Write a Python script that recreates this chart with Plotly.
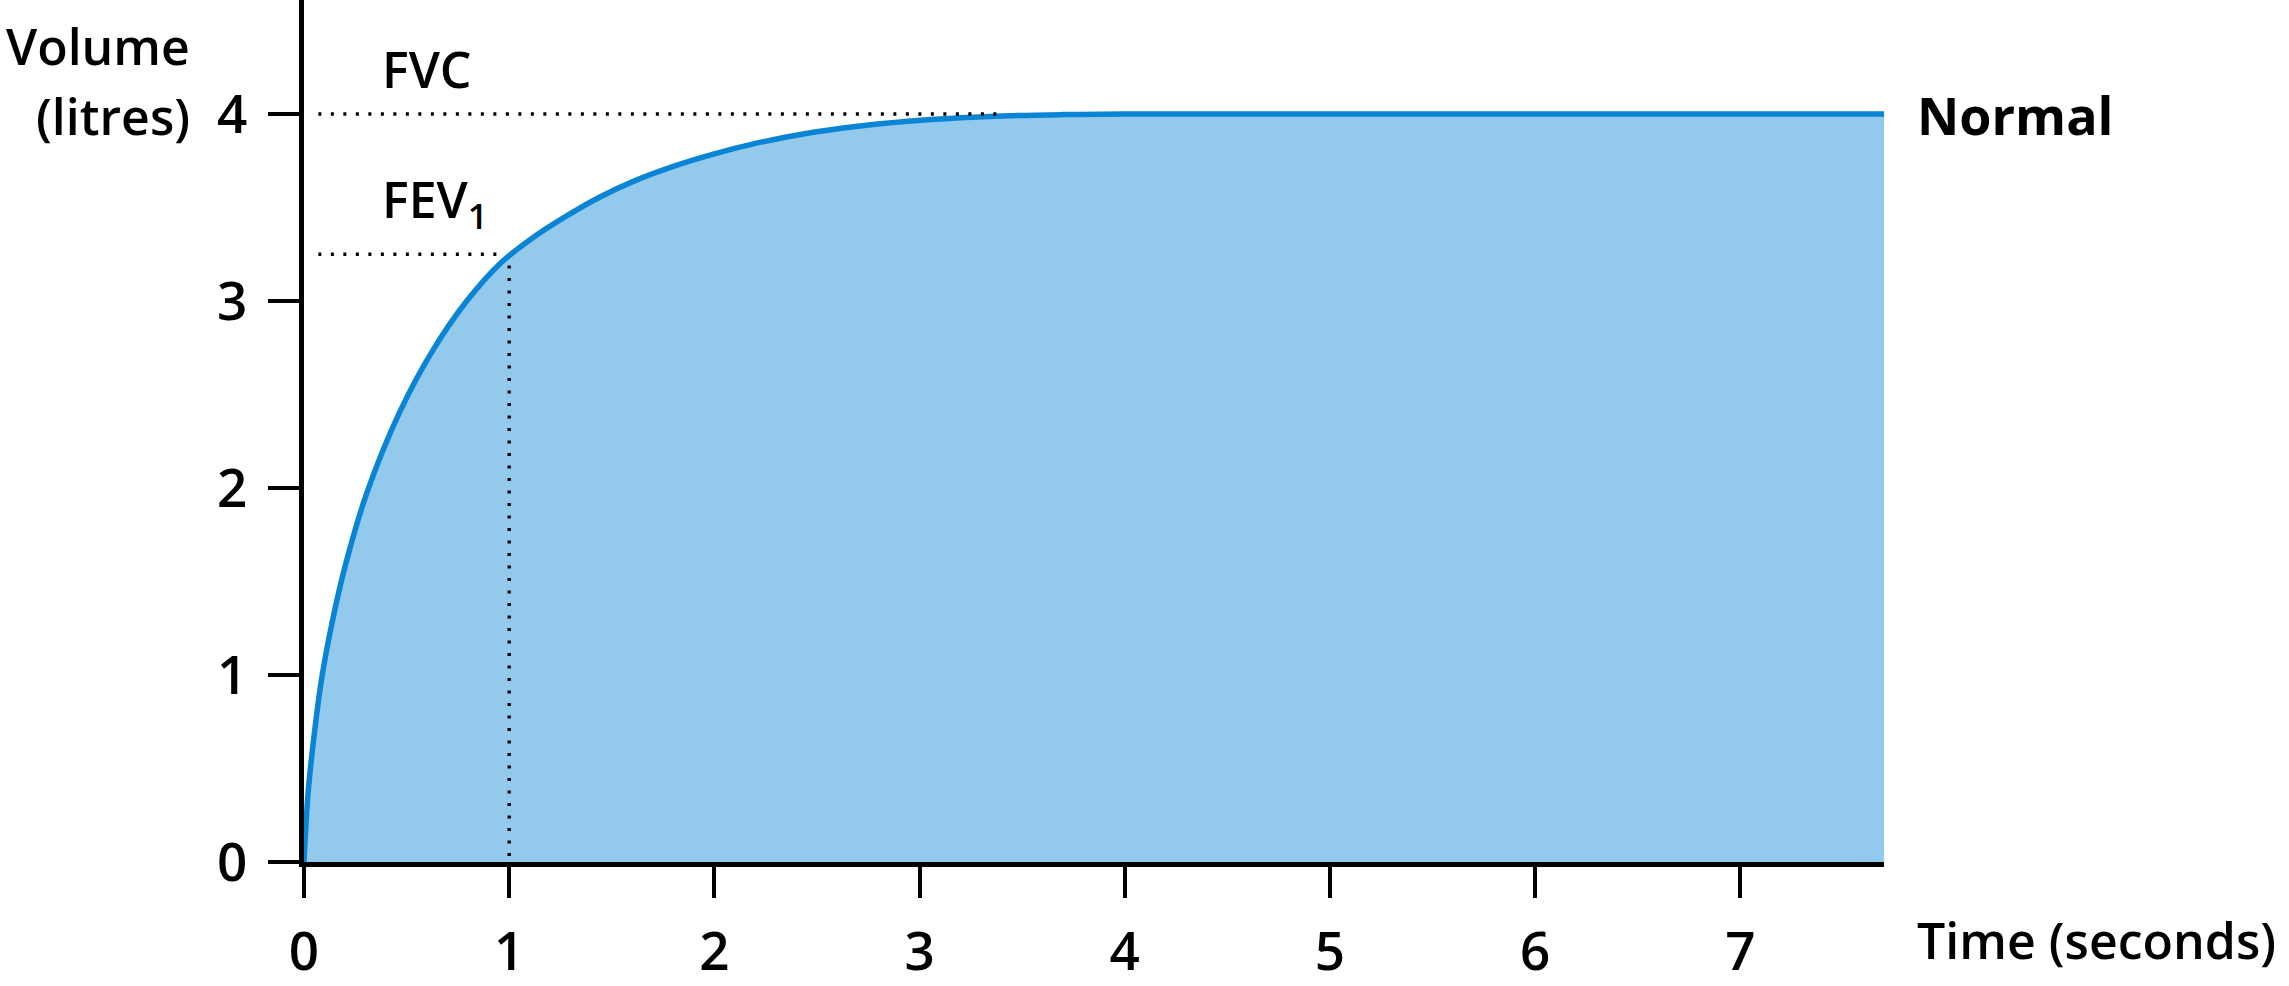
import plotly.graph_objects as go

# Data
time_s = [0, 0.02, 0.054, 0.086, 0.135, 0.2, 0.305, 0.468, 0.63, 0.793, 0.955, 1.117,
          1.28, 1.44, 1.605, 1.8, 2.0, 2.2, 2.44, 2.7, 2.93, 3.2, 3.43, 3.7, 4.0, 5.0, 6.0, 7.7]
volume_l = [0, 0.37, 0.72, 0.98, 1.27, 1.58, 1.97, 2.41, 2.74, 3.0, 3.2, 3.34,
            3.455, 3.555, 3.64, 3.72, 3.787, 3.843, 3.895, 3.935, 3.96, 3.98, 3.991, 3.997, 4.0, 4.0, 4.0, 4.0]
x_ticks = [0, 1, 2, 3, 4, 5, 6, 7]
y_ticks = [0, 1, 2, 3, 4]
FVC = 4.0
FEV1 = 3.25
FEV1_TIME = 1.0
FVC_LINE_END = 3.4
DOT_START = 0.07

FONT = "Open Sans"
fill_col = "#93CAEC"
line_col = "#0A84D4"

fig = go.Figure()
fig.add_trace(go.Scatter(
    x=time_s, y=volume_l, mode="lines", line=dict(color=line_col, width=5.5, shape="spline", smoothing=1.0),
    fill="tozeroy", fillcolor=fill_col, hoverinfo="skip", showlegend=False))

dot = dict(color="black", width=3.4, dash="3px,9.5px")
fig.add_trace(go.Scatter(x=[DOT_START, FVC_LINE_END], y=[FVC, FVC], mode="lines", line=dot,
                         showlegend=False, hoverinfo="skip"))
fig.add_trace(go.Scatter(x=[DOT_START, FEV1_TIME - 0.05], y=[FEV1, FEV1], mode="lines", line=dot,
                         showlegend=False, hoverinfo="skip"))
fig.add_trace(go.Scatter(x=[FEV1_TIME, FEV1_TIME], y=[FEV1 - 0.06, 0.02], mode="lines", line=dot,
                         showlegend=False, hoverinfo="skip"))

W, H = 2289, 986
L, R, T, B = 304, 405, 0, 116

tf = dict(family=FONT, size=53, color="black", weight=600)
fig.update_layout(
    width=W, height=H, margin=dict(l=L, r=R, t=T, b=B),
    plot_bgcolor="white", paper_bgcolor="white",
    xaxis=dict(range=[0, 7.7], tickvals=x_ticks, ticktext=[str(v) for v in x_ticks],
               showline=True, linecolor="black", linewidth=5, ticks="outside", ticklen=31,
               tickwidth=4, tickcolor="black", showgrid=False, zeroline=False, tickfont=tf,
               ticklabelstandoff=8),
    yaxis=dict(range=[0, 4.61], tickvals=y_ticks, ticktext=[str(v) for v in y_ticks],
               showline=True, linecolor="black", linewidth=5, ticks="outside", ticklen=31,
               tickwidth=4, tickcolor="black", showgrid=False, zeroline=False, tickfont=tf,
               ticklabelstandoff=10),
)

ann_font = dict(family=FONT, size=50, color="black", weight=600)
fig.add_annotation(text="Volume", xref="paper", yref="paper", x=(192 - L) / 1580, y=(870 - 46) / 870,
                   xanchor="right", yanchor="middle", showarrow=False, font=ann_font)
fig.add_annotation(text="(litres)", xref="paper", yref="paper", x=(192 - L) / 1580, y=(870 - 117) / 870,
                   xanchor="right", yanchor="middle", showarrow=False, font=ann_font)
fig.add_annotation(text="FVC", xref="x", yref="y", x=0.37, y=4.24,
                   xanchor="left", yanchor="middle", showarrow=False, font=ann_font)
fig.add_annotation(text="FEV<sub>1</sub>", xref="x", yref="y", x=0.37, y=3.53,
                   xanchor="left", yanchor="middle", showarrow=False, font=ann_font)
fig.add_annotation(text="Normal", xref="paper", yref="y", x=(1915 - L) / 1580, y=4.0,
                   xanchor="left", yanchor="middle", showarrow=False,
                   font=dict(family=FONT, size=52, color="black", weight=700))
fig.add_annotation(text="Time (seconds)", xref="paper", yref="paper", x=(1915 - L) / 1580, y=(870 - 949) / 870,
                   xanchor="left", yanchor="middle", showarrow=False, font=ann_font)

fig.write_html("out.html", config={"displayModeBar": False},
               post_script="document.body.style.margin='0';document.body.style.overflow='hidden';")
